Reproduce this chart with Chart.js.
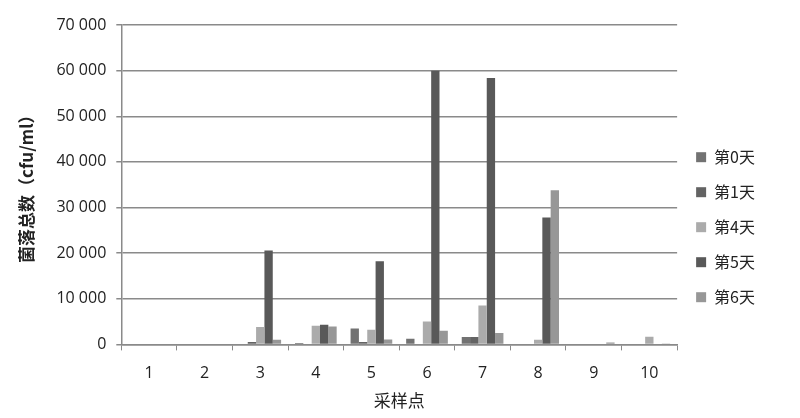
<!DOCTYPE html>
<html>
<head>
<meta charset="utf-8">
<script src="https://cdn.jsdelivr.net/npm/chart.js@4"></script>
<style>
    body { margin: 0; background: #fff; }
    #wrap { width: 800px; height: 418px; }
</style>
</head>
<body>
<div id="wrap"><canvas id="grafico" width="800" height="418"></canvas></div>
<script>
// 采样点
const categorias = ['1', '2', '3', '4', '5', '6', '7', '8', '9', '10'];

// 菌落总数 por dia (cfu/ml)
const dia0 = [0, 0, 0, 300, 3500, 1250, 1600, 0, 0, 0];
const dia1 = [0, 0, 500, 0, 500, 0, 1600, 0, 0, 0];
const dia4 = [0, 0, 3800, 4100, 3200, 5000, 8500, 1000, 0, 1700];
const dia5 = [0, 0, 20600, 4300, 18200, 60000, 58400, 27800, 0, 0];
const dia6 = [0, 0, 1000, 3900, 1100, 3000, 2500, 33800, 400, 200];

const nomesSeries = ['第0天', '第1天', '第4天', '第5天', '第6天'];
const rotulosY = ['0', '10 000', '20 000', '30 000', '40 000', '50 000', '60 000', '70 000'];

const cores = ['#727272', '#636363', '#ababab', '#595959', '#979797'];
const fonteNum = "'Open Sans', 'Liberation Sans', sans-serif";
const fonteCJK = "'Noto Sans CJK SC', sans-serif";

const series = [dia0, dia1, dia4, dia5, dia6];

new Chart(document.getElementById('grafico'), {
    type: 'bar',
    data: {
        labels: categorias,
        datasets: series.map((valores, i) => ({
            label: nomesSeries[i],
            data: valores,
            backgroundColor: cores[i],
            borderWidth: 0,
            categoryPercentage: 0.75,
            barPercentage: 1.0
        }))
    },
    options: {
        responsive: false,
        animation: false,
        layout: {
            padding: { left: 12, right: 35, top: 25, bottom: 3 }
        },
        plugins: {
            legend: {
                position: 'right',
                title: {
                    display: true,
                    text: ' ',
                    padding: 0,
                    font: { size: 12 }
                },
                labels: {
                    boxWidth: 10,
                    boxHeight: 10,
                    padding: 19,
                    color: '#222',
                    font: { family: fonteCJK, size: 16 }
                }
            },
            tooltip: { enabled: false }
        },
        scales: {
            x: {
                grid: {
                    drawOnChartArea: false,
                    drawTicks: true,
                    tickLength: 6,
                    color: '#8a8a8a',
                    offset: true
                },
                border: { color: '#8a8a8a', width: 1.5 },
                ticks: {
                    color: '#222',
                    padding: 13,
                    font: { family: fonteNum, size: 16 }
                },
                title: {
                    display: true,
                    text: '采样点',
                    color: '#222',
                    padding: { top: -5, bottom: 4 },
                    font: { family: fonteCJK, size: 17 }
                }
            },
            y: {
                min: 0,
                max: 70000,
                ticks: {
                    stepSize: 10000,
                    color: '#222',
                    padding: 10,
                    font: { family: fonteNum, size: 16 },
                    callback: (valor) => rotulosY[Math.round(valor / 10000)]
                },
                grid: {
                    color: '#8a8a8a',
                    lineWidth: 1.5,
                    tickLength: 5
                },
                border: { color: '#8a8a8a', width: 1.5 },
                title: {
                    display: true,
                    text: '菌落总数（cfu/ml）',
                    color: '#222',
                    padding: { bottom: 10 },
                    font: { family: fonteCJK, size: 17, weight: 'bold' }
                }
            }
        }
    }
});
</script>
</body>
</html>
